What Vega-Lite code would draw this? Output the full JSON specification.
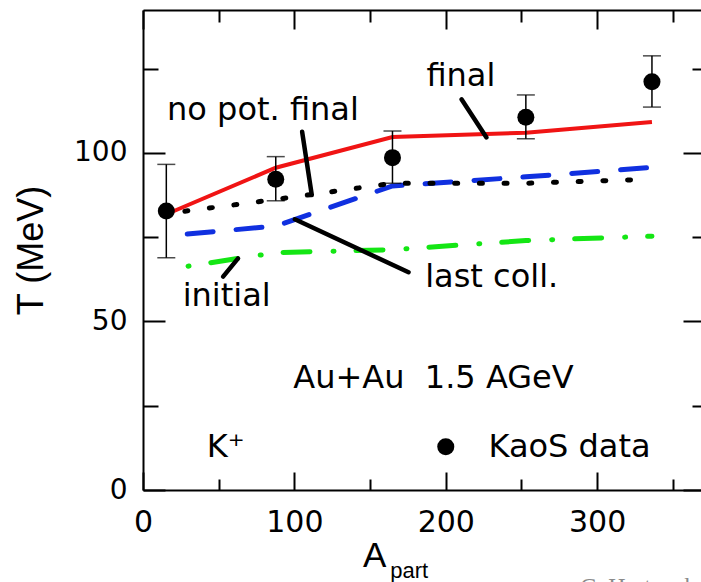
{
  "$schema": "https://vega.github.io/schema/vega-lite/v6.json",
  "width": 558,
  "height": 480,
  "autosize": {"type": "none"},
  "padding": {"left": 143, "top": 10, "right": 0, "bottom": 92},
  "background": "white",
  "config": {"view": {"stroke": null}, "font": "DejaVu Sans"},
  "datasets": {
    "curves": [
      {"series": "initial", "A": 15.4, "T": 65.4},
      {"series": "initial", "A": 87.7, "T": 70.4},
      {"series": "initial", "A": 164.8, "T": 71.3},
      {"series": "initial", "A": 252.9, "T": 74.0},
      {"series": "initial", "A": 336.2, "T": 75.3},
      {"series": "last coll.", "A": 15.4, "T": 75.4},
      {"series": "last coll.", "A": 87.7, "T": 78.3},
      {"series": "last coll.", "A": 164.8, "T": 90.2},
      {"series": "last coll.", "A": 252.9, "T": 92.9},
      {"series": "last coll.", "A": 336.2, "T": 95.7},
      {"series": "no pot. final", "A": 15.4, "T": 82.0},
      {"series": "no pot. final", "A": 87.7, "T": 86.2},
      {"series": "no pot. final", "A": 164.8, "T": 91.0},
      {"series": "no pot. final", "A": 252.9, "T": 91.0},
      {"series": "no pot. final", "A": 336.2, "T": 92.2},
      {"series": "final", "A": 15.4, "T": 81.8},
      {"series": "final", "A": 87.7, "T": 95.6},
      {"series": "final", "A": 164.8, "T": 104.7},
      {"series": "final", "A": 252.9, "T": 106.0},
      {"series": "final", "A": 336.2, "T": 109.2}
    ],
    "kaos": [
      {"A": 15.4, "T": 82.8, "lo": 68.9, "hi": 96.6},
      {"A": 87.7, "T": 92.2, "lo": 85.8, "hi": 98.9},
      {"A": 164.8, "T": 98.6, "lo": 91.0, "hi": 106.5},
      {"A": 252.9, "T": 110.6, "lo": 104.2, "hi": 117.2},
      {"A": 336.2, "T": 121.1, "lo": 113.6, "hi": 128.8}
    ],
    "pointers": [
      {"label": "final", "A": 210.4, "T": 115.9, "A2": 226.9, "T2": 104.6},
      {"label": "no pot. final", "A": 105.1, "T": 106.3, "A2": 111.5, "T2": 87.5},
      {"label": "last coll.", "A": 100.3, "T": 80.3, "A2": 175.4, "T2": 64.6},
      {"label": "initial", "A": 62.8, "T": 68.7, "A2": 52.9, "T2": 63.3}
    ],
    "notes": [
      {"text": "no pot. final", "A": 15.9, "T": 109.8},
      {"text": "final", "A": 187.2, "T": 119.9},
      {"text": "last coll.", "A": 186.4, "T": 60.3},
      {"text": "initial", "A": 26.2, "T": 54.6},
      {"text": "Au+Au\u00a0\u00a01.5 AGeV", "A": 99.3, "T": 30.2},
      {"text": "K\u207a", "A": 42.1, "T": 9.9},
      {"text": "KaoS data", "A": 228.2, "T": 9.9}
    ],
    "legendDot": [{"A": 200, "T": 12.8}]
  },
  "encoding": {
    "x": {"field": "A", "type": "quantitative", "scale": {"domain": [0, 368.6], "nice": false, "zero": false}, "axis": null},
    "y": {"field": "T", "type": "quantitative", "scale": {"domain": [0, 142.4], "nice": false, "zero": false}, "axis": null}
  },
  "layer": [
    {
      "data": {"name": "curves"},
      "transform": [{"filter": "datum.series === 'initial'"}],
      "mark": {"type": "line", "color": "#14e614", "strokeWidth": 5, "strokeCap": "round", "strokeDash": [1, 22, 27, 23], "strokeDashOffset": 51},
      "encoding": {
        "x": {
          "field": "A", "type": "quantitative",
          "scale": {"domain": [0, 368.6], "nice": false, "zero": false},
          "axis": {
            "orient": "bottom",
            "values": [0, 50, 100, 150, 200, 250, 300, 350],
            "domainColor": "black", "domainWidth": 2,
            "tickColor": "black", "tickWidth": 2,
            "tickSize": {"condition": {"test": "datum.value % 100 === 0", "value": -18}, "value": -11},
            "labelExpr": "datum.value % 100 === 0 ? datum.label : ''",
            "labelFont": "DejaVu Sans", "labelFontSize": 30, "labelColor": "black",
            "labelPadding": 35, "labelFlush": false, "labelOverlap": false,
            "grid": false, "title": null
          }
        },
        "y": {
          "field": "T", "type": "quantitative",
          "scale": {"domain": [0, 142.4], "nice": false, "zero": false},
          "axis": {
            "orient": "left",
            "values": [0, 25, 50, 75, 100, 125],
            "domainColor": "black", "domainWidth": 2,
            "tickColor": "black", "tickWidth": 2,
            "tickSize": {"condition": {"test": "datum.value % 50 === 0", "value": -22}, "value": -15},
            "labelExpr": "datum.value % 50 === 0 ? datum.label : ''",
            "labelFont": "DejaVu Sans", "labelFontSize": 28, "labelColor": "black",
            "labelPadding": 38, "labelFlush": false, "labelOverlap": false,
            "grid": false,
            "title": "T (MeV)",
            "titleFont": "Liberation Sans", "titleFontSize": 36, "titleFontWeight": "normal", "titleColor": "black",
            "titleAngle": -90, "titleAlign": "center", "titleBaseline": "alphabetic",
            "titleX": -101, "titleY": 240
          }
        }
      }
    },
    {
      "data": {"name": "curves"},
      "transform": [{"filter": "datum.series === 'last coll.'"}],
      "mark": {"type": "line", "color": "#1030e0", "strokeWidth": 5, "strokeCap": "round", "strokeDash": [26, 23], "strokeDashOffset": 28},
      "encoding": {
        "x": {
          "field": "A", "type": "quantitative",
          "scale": {"domain": [0, 368.6], "nice": false, "zero": false},
          "axis": {
            "orient": "top",
            "values": [0, 50, 100, 150, 200, 250, 300, 350],
            "domainColor": "black", "domainWidth": 2,
            "tickColor": "black", "tickWidth": 2,
            "tickSize": {"condition": {"test": "datum.value % 100 === 0", "value": -19}, "value": -12},
            "labels": false, "grid": false, "title": null
          }
        },
        "y": {
          "field": "T", "type": "quantitative",
          "scale": {"domain": [0, 142.4], "nice": false, "zero": false},
          "axis": {
            "orient": "right",
            "values": [0, 25, 50, 75, 100, 125],
            "domain": false,
            "tickColor": "black", "tickWidth": 2,
            "tickSize": {"condition": {"test": "datum.value % 50 === 0", "value": -18}, "value": -9},
            "labels": false, "grid": false, "title": null
          }
        }
      }
    },
    {
      "data": {"name": "curves"},
      "transform": [{"filter": "datum.series === 'no pot. final'"}],
      "mark": {"type": "line", "color": "black", "strokeWidth": 5, "strokeCap": "round", "strokeDash": [3, 21.7], "strokeDashOffset": 6}
    },
    {
      "data": {"name": "curves"},
      "transform": [{"filter": "datum.series === 'final'"}],
      "mark": {"type": "line", "color": "#f01414", "strokeWidth": 4}
    },
    {
      "data": {"name": "pointers"},
      "mark": {"type": "rule", "color": "black", "strokeWidth": 4.5, "strokeCap": "round"},
      "encoding": {
        "x2": {"field": "A2"},
        "y2": {"field": "T2"}
      }
    },
    {
      "data": {"name": "kaos"},
      "mark": {"type": "rule", "color": "black", "strokeWidth": 1.5},
      "encoding": {
        "y": {"field": "lo", "type": "quantitative", "scale": {"domain": [0, 142.4], "nice": false, "zero": false}, "axis": null},
        "y2": {"field": "hi"}
      }
    },
    {
      "data": {"name": "kaos"},
      "mark": {"type": "tick", "orient": "horizontal", "color": "black", "size": 18, "thickness": 1.5},
      "encoding": {
        "y": {"field": "lo", "type": "quantitative", "scale": {"domain": [0, 142.4], "nice": false, "zero": false}, "axis": null}
      }
    },
    {
      "data": {"name": "kaos"},
      "mark": {"type": "tick", "orient": "horizontal", "color": "black", "size": 18, "thickness": 1.5},
      "encoding": {
        "y": {"field": "hi", "type": "quantitative", "scale": {"domain": [0, 142.4], "nice": false, "zero": false}, "axis": null}
      }
    },
    {
      "data": {"name": "kaos"},
      "mark": {"type": "point", "shape": "circle", "filled": true, "color": "black", "opacity": 1, "size": 290}
    },
    {
      "data": {"name": "legendDot"},
      "mark": {"type": "point", "shape": "circle", "filled": true, "color": "black", "opacity": 1, "size": 290}
    },
    {
      "data": {"name": "notes"},
      "mark": {"type": "text", "align": "left", "baseline": "alphabetic", "font": "DejaVu Sans", "fontSize": 32, "color": "black"},
      "encoding": {"text": {"field": "text"}}
    },
    {
      "data": {"values": [{"A": 145.4, "T": -22.8, "text": "A"}]},
      "mark": {"type": "text", "align": "left", "baseline": "alphabetic", "font": "Liberation Sans", "fontSize": 35, "color": "black"},
      "encoding": {"text": {"field": "text"}}
    },
    {
      "data": {"values": [{"A": 163.3, "T": -26.1, "text": "part"}]},
      "mark": {"type": "text", "align": "left", "baseline": "alphabetic", "font": "Liberation Sans", "fontSize": 22, "color": "black"},
      "encoding": {"text": {"field": "text"}}
    },
    {
      "data": {"values": [{"A": 288.8, "T": -30.9, "text": "C. Hartnack"}]},
      "mark": {"type": "text", "align": "left", "baseline": "alphabetic", "font": "Liberation Serif", "fontSize": 24, "color": "#8a8a8a"},
      "encoding": {"text": {"field": "text"}}
    }
  ],
  "resolve": {"axis": {"x": "independent", "y": "independent"}}
}
